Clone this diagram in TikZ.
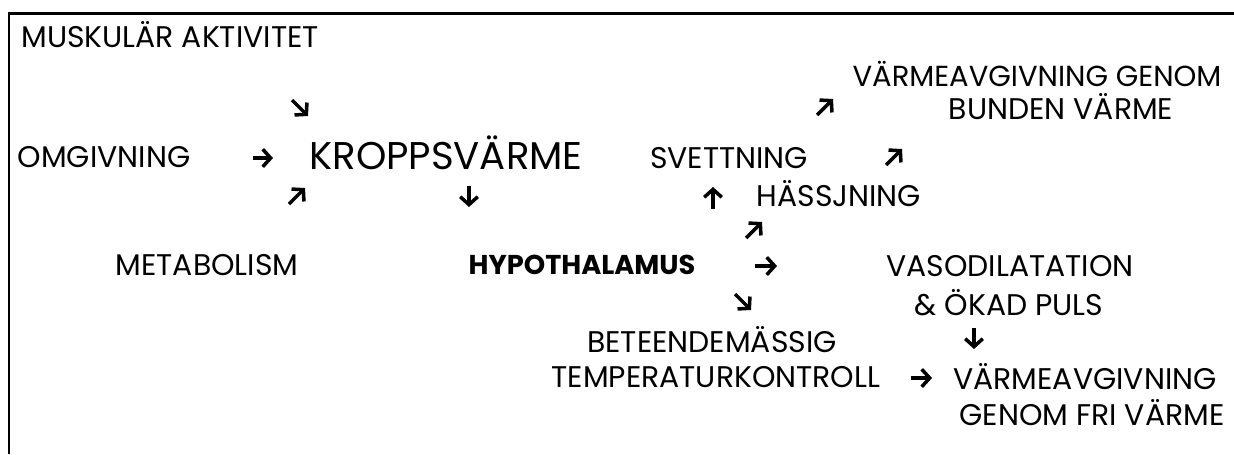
\documentclass[tikz,border=0pt]{standalone}
\usepackage{fontspec}
\setmainfont{Poppins}
\usetikzlibrary{arrows.meta}

\tikzset{
  lbl/.style={inner sep=0pt, font=\fontsize{17}{20}\selectfont},
  big/.style={inner sep=0pt, font=\fontsize{22}{26}\selectfont},
  arr/.style={line width=2pt, -{Straight Barb[length=4.5pt,width=10pt]}}
}

\begin{document}
\begin{tikzpicture}[x=0.02cm,y=-0.02cm]
    \useasboundingbox (0,0) rectangle (1234,454);

    %frame
    \draw[line width=1.4pt] (9,454) -- (9,13.5) -- (1234,13.5);

    %texts
    \node[lbl] (musk) at (170,35) {MUSKULÄR AKTIVITET};
    \node[lbl,font=\fontsize{16.5}{20}\selectfont] (vagenom) at (1037,74) {VÄRMEAVGIVNING GENOM};
    \node[lbl] (bunden) at (1061,107) {BUNDEN VÄRME};
    \node[lbl] (omg) at (104,157) {OMGIVNING};
    \node[big] (kropp) at (446,153) {KROPPSVÄRME};
    \node[lbl] (svett) at (729,158) {SVETTNING};
    \node[lbl] (hass) at (839,194) {HÄSSJNING};
    \node[lbl] (meta) at (207,265) {METABOLISM};
    \node[lbl,font=\fontsize{15.5}{18}\selectfont\bfseries] (hypo) at (582,265) {HYPOTHALAMUS};
    \node[lbl] (vaso) at (1010,266) {VASODILATATION};
    \node[lbl] (puls) at (1009,303) {\&~ÖKAD PULS};
    \node[lbl] (betee) at (712,340) {BETEENDEMÄSSIG};
    \node[lbl] (temp) at (716,377) {TEMPERATURKONTROLL};
    \node[lbl] (vafri) at (1085,377) {VÄRMEAVGIVNING};
    \node[lbl] (fri) at (1092,413) {GENOM FRI VÄRME};

    %arrows
    \coordinate (a1) at (292,100);
    \coordinate (a2) at (817,115);
    \coordinate (a3) at (253,158);
    \coordinate (a4) at (886,165);
    \coordinate (a5) at (289,204);
    \coordinate (a6) at (469,186);
    \coordinate (a7) at (713,209);
    \coordinate (a8) at (746,238);
    \coordinate (a9) at (755,266);
    \coordinate (a10) at (735,294);
    \coordinate (a11) at (974,328);
    \coordinate (a12) at (911,378);
    \draw[arr] (a1) -- ++(16,16);
    \draw[arr] (a2) -- ++(16,-16);
    \draw[arr] (a3) -- ++(20,0);
    \draw[arr] (a4) -- ++(16,-16);
    \draw[arr] (a5) -- ++(16,-16);
    \draw[arr] (a6) -- ++(0,21);
    \draw[arr] (a7) -- ++(0,-22);
    \draw[arr] (a8) -- ++(16,-16);
    \draw[arr] (a9) -- ++(22,0);
    \draw[arr] (a10) -- ++(16,16);
    \draw[arr] (a11) -- ++(0,21);
    \draw[arr] (a12) -- ++(21,0);

\end{tikzpicture}
\end{document}
